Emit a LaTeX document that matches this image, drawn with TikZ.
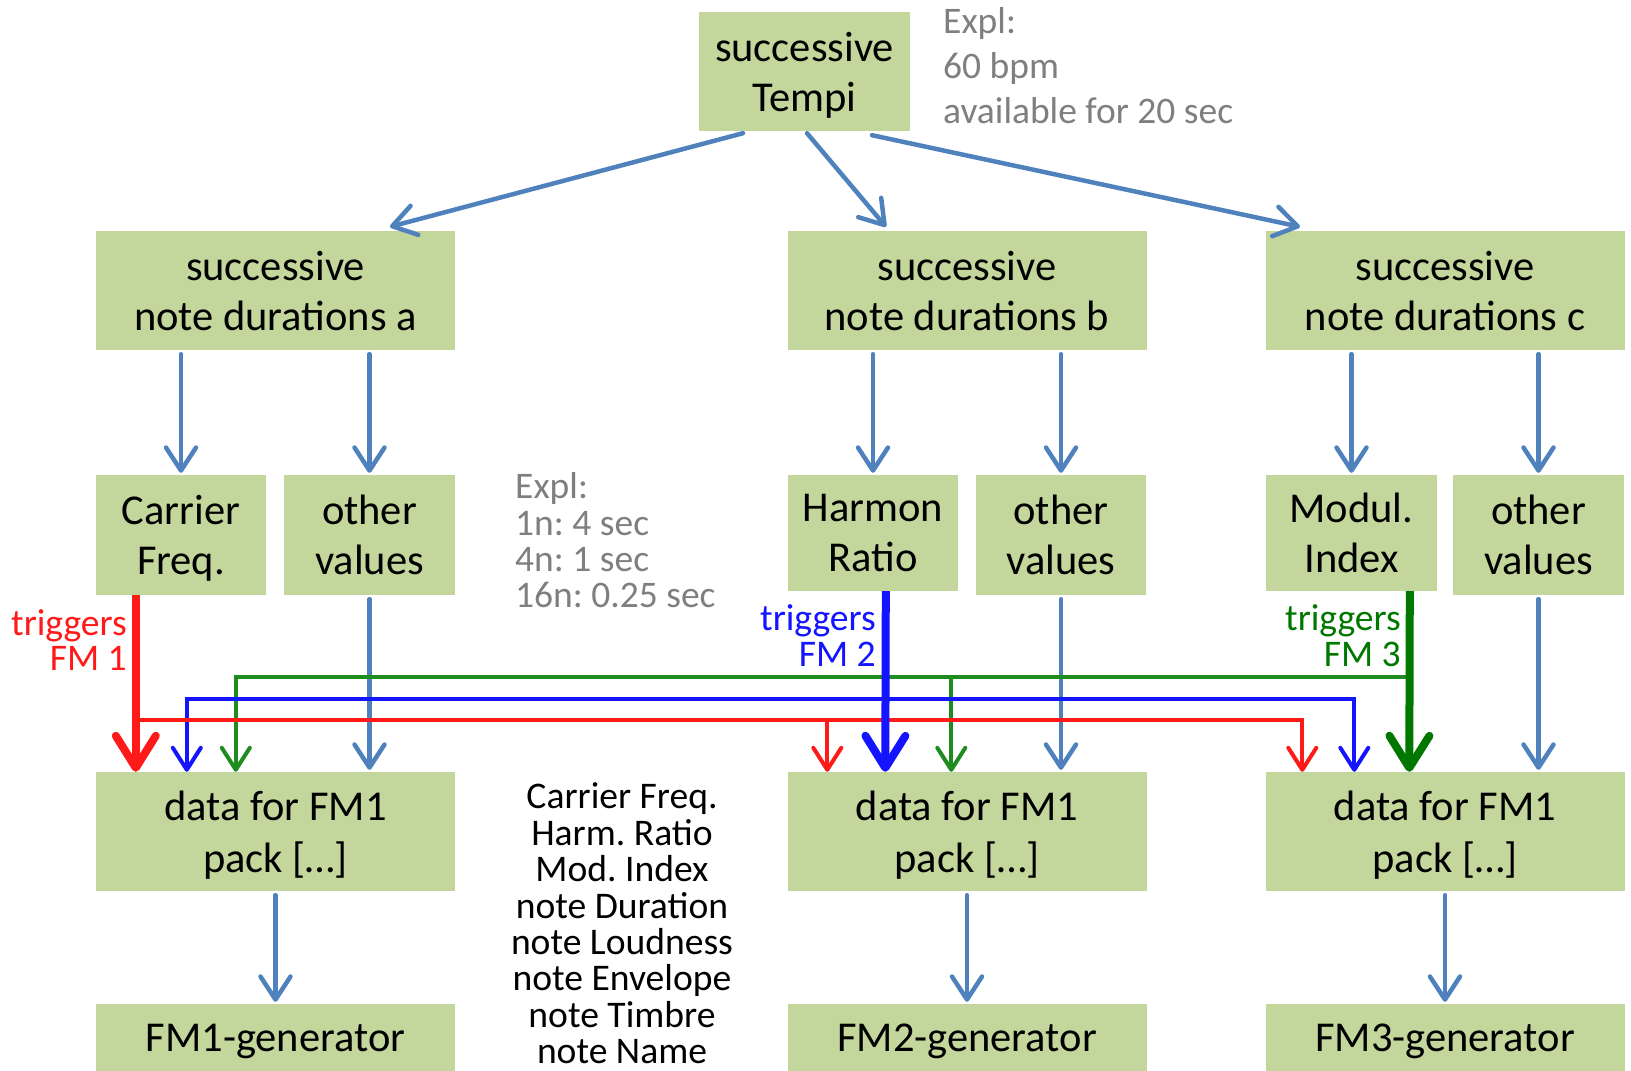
\documentclass[tikz,border=0pt]{standalone}
\usepackage{fontspec}
\setmainfont{Carlito}
\usetikzlibrary{arrows.meta,calc}
\definecolor{boxgreen}{HTML}{C3D69B}
\definecolor{steel}{HTML}{4F81BD}
\definecolor{trigred}{HTML}{FF1A1A}
\definecolor{trigblue}{HTML}{1414FF}
\definecolor{triggreen}{HTML}{1E8C1E}
\definecolor{darkgreen}{HTML}{007800}
\definecolor{expgray}{HTML}{7F7F7F}
\tikzset{
  box/.style={fill=boxgreen, draw=none, inner sep=0pt, align=center, text depth=0pt,
    font=\fontsize{42.5}{50}\selectfont},
  smallbox/.style={box, font=\fontsize{42.5}{50}\selectfont},
  databox/.style={box, font=\fontsize{42.5}{52}\selectfont},
  sarrow/.style={draw=steel, line width=4.5pt, line cap=round,
    -{Straight Barb[length=23pt,width=30pt,line cap=round,line join=round]}},
  thinbarb/.tip={Straight Barb[length=22pt,width=28pt,line cap=round,line join=round]},
  thickbarb/.tip={Straight Barb[length=32pt,width=40pt,line cap=round,line join=round]},
  thinline/.style={line width=4pt},
  thickline/.style={line width=8pt, -thickbarb},
  graytext/.style={text=expgray, inner sep=0pt},
}
\begin{document}
\frenchspacing
\begin{tikzpicture}[x=1pt,y=-1pt]
\useasboundingbox (0,0) rectangle (1631,1071);

% boxes
\node[box, minimum width=211pt, minimum height=119pt] (tempi) at (804.5,71.5) {successive\\Tempi};
\node[box, minimum width=359pt, minimum height=119pt] (durA) at (275.5,290.5) {successive\\note durations a};
\node[box, minimum width=359pt, minimum height=119pt] (durB) at (967,290.5) {successive\\note durations b};
\node[box, minimum width=359pt, minimum height=119pt] (durC) at (1445,290.5) {successive\\note durations c};

\node[smallbox, minimum width=170pt, minimum height=120pt] (carrier) at (181,535) {Carrier\\Freq.};
\node[smallbox, minimum width=171pt, minimum height=120pt] (othA) at (369.5,535) {other\\values};
\node[smallbox, minimum width=170pt, minimum height=116pt] (harmon) at (873,533) {Harmon\\Ratio};
\node[smallbox, minimum width=170pt, minimum height=120pt] (othB) at (1061,535) {other\\values};
\node[smallbox, minimum width=171pt, minimum height=116pt] (modul) at (1351.5,533) {Modul.\\Index};
\node[smallbox, minimum width=171pt, minimum height=120pt] (othC) at (1538.5,535) {other\\values};

\node[databox, minimum width=359pt, minimum height=119pt] (dataA) at (275.5,831.5) {data for FM1\\pack [\dots]};
\node[databox, minimum width=359pt, minimum height=119pt] (dataB) at (967,831.5) {data for FM1\\pack [\dots]};
\node[databox, minimum width=359pt, minimum height=119pt] (dataC) at (1445,831.5) {data for FM1\\pack [\dots]};

\node[box, minimum width=359pt, minimum height=67pt] (genA) at (275.5,1037.5) {FM1-generator};
\node[box, minimum width=359pt, minimum height=67pt] (genB) at (967,1037.5) {FM2-generator};
\node[box, minimum width=359pt, minimum height=67pt] (genC) at (1445,1037.5) {FM3-generator};

% texts
\node[graytext, anchor=west, align=left, font=\fontsize{37.5}{45}\selectfont] (explA) at (943,66) {Expl:\\60 bpm\\available for 20 sec};
\node[graytext, anchor=west, align=left, font=\fontsize{37.5}{36.4}\selectfont] (explB) at (515,540.5) {Expl:\\1n: 4 sec\\4n: 1 sec\\16n: 0.25 sec};
\node[text=trigred, inner sep=0pt, anchor=east, align=right, font=\fontsize{37.6}{35.5}\selectfont] (trigA) at (127,640) {triggers\\FM 1};
\node[text=trigblue, inner sep=0pt, anchor=east, align=right, font=\fontsize{37.6}{35.5}\selectfont] (trigB) at (876,635.5) {triggers\\FM 2};
\node[text=darkgreen, inner sep=0pt, anchor=east, align=right, font=\fontsize{37.6}{35.5}\selectfont] (trigC) at (1401,635.5) {triggers\\FM 3};
\node[inner sep=0pt, align=center, font=\fontsize{37.6}{36.4}\selectfont] (params) at (622,923.5) {Carrier Freq.\\Harm. Ratio\\Mod. Index\\note Duration\\note Loudness\\note Envelope\\note Timbre\\note Name};

% steel arrows from tempi
\draw[sarrow] ([xshift=-61.5pt,yshift=-2pt]tempi.south) -- ([xshift=114.5pt,yshift=4pt]durA.north);
\draw[sarrow] ([xshift=2.5pt,yshift=-2pt]tempi.south) -- ([xshift=-81pt,yshift=4pt]durB.north);
\draw[sarrow] ([xshift=67.5pt,yshift=-4pt]tempi.south) -- ([xshift=-145pt,yshift=4pt]durC.north);

% row 2 -> row 3
\foreach \s/\t in {durA/carrier, durA/othA, durB/harmon, durB/othB, durC/modul, durC/othC}{
  \draw[sarrow] ($(\s.south -| \t.north)+(0,4)$) -- ($(\t.north)+(0,-2)$);
}
% other -> data
\foreach \s/\t in {othA/dataA, othB/dataB, othC/dataC}{
  \draw[sarrow] ($(\s.south)+(0,4)$) -- ($(\t.north -| \s.south)+(0,-2)$);
}
% data -> generator
\foreach \s/\t in {dataA/genA, dataB/genB, dataC/genC}{
  \draw[sarrow] ($(\s.south)+(0,4)$) -- ($(\t.north)+(0,-2)$);
}

% trigger coordinates
\coordinate (rt) at ([xshift=40pt]carrier.south west);
\coordinate (rb) at ([xshift=40pt]dataA.north west);
\coordinate (bt) at ([xshift=98pt]harmon.south west);
\coordinate (bb) at ([xshift=98pt]dataB.north west);
\coordinate (gt) at ([xshift=144pt]modul.south west);
\coordinate (gb) at ([xshift=144pt]dataC.north west);
\coordinate (rB1) at ([xshift=40pt]dataB.north west);
\coordinate (rB2) at ([xshift=37pt]dataC.north west);
\coordinate (bB1) at ([xshift=91pt]dataA.north west);
\coordinate (bB2) at ([xshift=89pt]dataC.north west);
\coordinate (gB1) at ([xshift=140pt]dataA.north west);
\coordinate (gB2) at ([xshift=164pt]dataB.north west);
\coordinate (redlevel) at (0,720);
\coordinate (bluelevel) at (0,699);
\coordinate (greenlevel) at (0,677);

% green
\draw[thinline, triggreen, thinbarb-] (gB1) |- (gt |- greenlevel);
\draw[thinline, triggreen, -thinbarb] (gB2 |- greenlevel) -- (gB2);
% blue
\draw[thinline, trigblue, thinbarb-thinbarb] (bB1) |- (bB2 |- bluelevel) -- (bB2);
% red
\draw[thinline, trigred, -thinbarb] (rt |- redlevel) -| (rB2);
\draw[thinline, trigred, -thinbarb] (rB1 |- redlevel) -- (rB1);
% trunks
\draw[thickline, trigred] (rt) -- (rb);
\draw[thickline, trigblue] (bt) -- (bb);
\draw[thickline, darkgreen] (gt) -- (gb);
\end{tikzpicture}
\end{document}
